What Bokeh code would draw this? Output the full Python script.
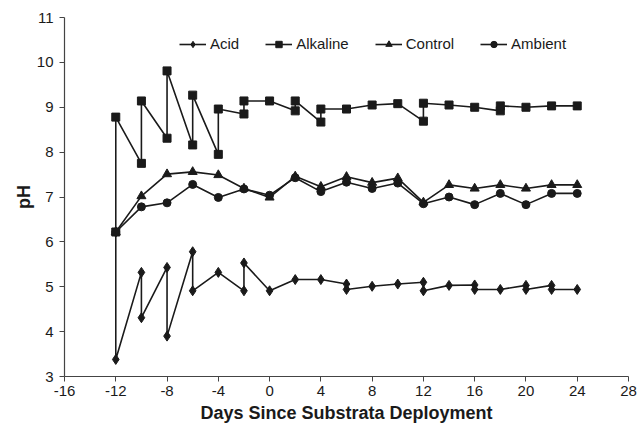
from bokeh.plotting import figure
from bokeh.models import Range1d, Legend, LegendItem, FixedTicker
from bokeh.embed import file_html
from bokeh.resources import INLINE

# ---- data ----
acid_x = [-12, -12, -10, -10, -8, -8, -6, -6, -4, -2, -2, 0, 2, 4, 6, 6, 8, 10, 12, 12,
          14, 16, 16, 18, 20, 20, 22, 22, 24]
acid_y = [6.22, 3.38, 5.32, 4.31, 5.43, 3.90, 5.78, 4.91, 5.32, 4.91, 5.53, 4.91, 5.16, 5.16,
          5.06, 4.94, 5.01, 5.06, 5.10, 4.91, 5.03, 5.04, 4.94, 4.94, 5.03, 4.94, 5.03, 4.94, 4.94]

alk_x = [-12, -12, -10, -10, -8, -8, -6, -6, -4, -4, -2, -2, 0, 2, 2, 4, 4, 6, 8, 10, 12, 12,
         14, 16, 18, 18, 20, 22, 24]
alk_y = [6.22, 8.78, 7.75, 9.14, 8.31, 9.81, 8.16, 9.27, 7.95, 8.96, 8.85, 9.14, 9.14, 8.92,
         9.14, 8.67, 8.96, 8.96, 9.05, 9.08, 8.69, 9.09, 9.05, 9.00, 8.92, 9.03, 9.00, 9.03, 9.03]

ctl_x = [-12, -10, -8, -6, -4, -2, 0, 2, 4, 6, 8, 10, 12, 14, 16, 18, 20, 22, 24]
ctl_y = [6.22, 7.02, 7.51, 7.56, 7.49, 7.19, 6.99, 7.46, 7.23, 7.45, 7.32, 7.42, 6.88, 7.27,
         7.19, 7.27, 7.19, 7.27, 7.27]

amb_x = [-12, -10, -8, -6, -4, -2, 0, 2, 4, 6, 8, 10, 12, 14, 16, 18, 20, 22, 24]
amb_y = [6.22, 6.78, 6.87, 7.28, 6.99, 7.18, 7.04, 7.43, 7.12, 7.33, 7.19, 7.31, 6.85, 7.00,
         6.83, 7.08, 6.83, 7.08, 7.08]

x_ticks = [-16, -12, -8, -4, 0, 4, 8, 12, 16, 20, 24, 28]
y_ticks = [3, 4, 5, 6, 7, 8, 9, 10, 11]

FONT = "Liberation Sans"
INK = "#1a1a1a"

p = figure(width=640, height=428, output_backend="svg", toolbar_location=None,
           x_range=Range1d(-16, 28), y_range=Range1d(3, 11),
           min_border_left=64, min_border_right=12, min_border_top=17, min_border_bottom=52)
p.outline_line_color = None
p.xgrid.visible = False
p.ygrid.visible = False

series = [
    ("Acid", acid_x, acid_y, "diamond", 10),
    ("Alkaline", alk_x, alk_y, "square", 8),
    ("Control", ctl_x, ctl_y, "triangle", 9),
    ("Ambient", amb_x, amb_y, "circle", 8),
]
items = []
for name, xs, ys, mk, sz in series:
    ln = p.line(xs, ys, line_color=INK, line_width=1.6)
    sc = p.scatter(xs, ys, marker=mk, size=sz, fill_color=INK, line_color=INK)
    items.append(LegendItem(label=name, renderers=[ln, sc]))

legend = Legend(items=items, orientation="horizontal", location=(115, 324),
                glyph_width=27, glyph_height=16, label_height=16, label_standoff=4,
                spacing=26, padding=0, margin=0,
                label_text_font=FONT, label_text_font_size="15px", label_text_color=INK,
                background_fill_alpha=0, border_line_color=None)
p.add_layout(legend, "center")

for ax in (p.xaxis[0], p.yaxis[0]):
    ax.axis_line_color = "#444444"
    ax.axis_line_width = 1.2
    ax.major_tick_line_color = "#444444"
    ax.major_tick_out = 5
    ax.major_tick_in = 0
    ax.minor_tick_line_color = None
    ax.major_label_text_font = FONT
    ax.major_label_text_font_size = "15px"
    ax.major_label_text_color = INK
    ax.axis_label_text_font = FONT
    ax.axis_label_text_font_style = "bold"
    ax.axis_label_text_font_size = "18px"
    ax.axis_label_text_color = INK

p.xaxis[0].ticker = FixedTicker(ticks=x_ticks)
p.yaxis[0].ticker = FixedTicker(ticks=y_ticks)
p.xaxis[0].major_label_overrides = {t: str(t) for t in x_ticks}
p.yaxis[0].major_label_overrides = {t: str(t) for t in y_ticks}
p.xaxis[0].axis_label = "Days Since Substrata Deployment"
p.yaxis[0].axis_label = "pH"
p.xaxis[0].major_label_standoff = 4
p.yaxis[0].major_label_standoff = 6
p.xaxis[0].axis_label_standoff = 4
p.yaxis[0].axis_label_standoff = 0

open("out.html", "w").write(file_html(p, INLINE))
